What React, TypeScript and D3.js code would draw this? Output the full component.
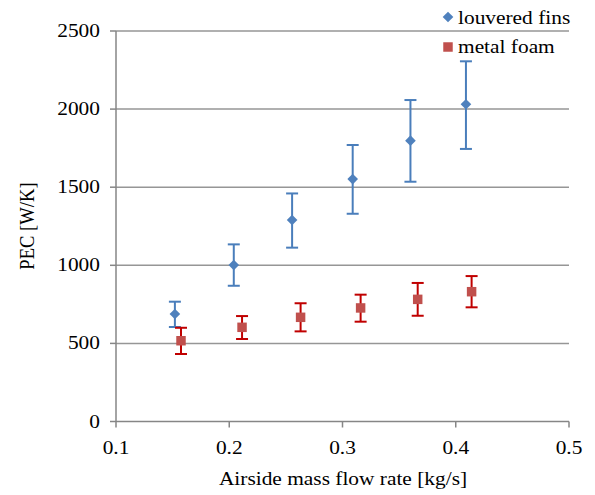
import React from "react";
import * as d3 from "d3";

const louveredX = [0.152, 0.204, 0.2555, 0.309, 0.360, 0.409];
const louveredY = [688, 1002, 1290, 1552, 1798, 2031];
const louveredHi = [767, 1134, 1460, 1770, 2058, 2306];
const louveredLo = [605, 869, 1113, 1330, 1535, 1745];

const foamX = [0.1574, 0.2113, 0.263, 0.316, 0.3664, 0.414];
const foamY = [517, 603, 667, 727, 782, 831];
const foamHi = [600, 675, 757, 812, 887, 931];
const foamLo = [432, 528, 577, 639, 677, 731];

const xTicks = [0.1, 0.2, 0.3, 0.4, 0.5];
const yTicks = [0, 500, 1000, 1500, 2000, 2500];

const W = 595;
const H = 495;
const font = "Liberation Serif, Times New Roman, serif";
const SX = 1.15;
const FS = "18.6px";

function Txt(props: { x: number; y: number; anchor?: string; rotate?: number; children: React.ReactNode }) {
  const { x, y, anchor, rotate, children } = props;
  return (
    <text
      transform={`translate(${x},${y}) scale(${SX},1)${rotate ? ` rotate(${rotate})` : ""}`}
      textAnchor={anchor || "start"}
      style={{ fontFamily: font, fontSize: FS }}
      fill="#000"
    >
      {children}
    </text>
  );
}

export default function App() {
  const x = d3.scaleLinear().domain([0.1, 0.5]).range([116, 569]);
  const y = d3.scaleLinear().domain([0, 2500]).range([421.5, 31]);
  const diamond = d3.symbol().type(d3.symbolDiamond2).size(72)() as string;
  const square = d3.symbol().type(d3.symbolSquare).size(90)() as string;
  const axisColor = "#868686";
  const gridColor = "#969696";
  const blue = "#4F81BD";
  const blueErr = "#4A7EBB";
  const red = "#C0504D";
  const redErr = "#C00000";
  const cap = 6;

  return (
    <svg width={W} height={H} style={{ position: "absolute", left: 0, top: 0, background: "#fff" }}>
      {yTicks.filter((t) => t > 0).map((t) => (
        <line key={"g" + t} x1={x(0.1)} x2={x(0.5)} y1={y(t)} y2={y(t)} stroke={gridColor} strokeWidth={1.5} />
      ))}
      <line x1={x(0.1)} x2={x(0.1)} y1={y(0)} y2={y(2500)} stroke={axisColor} strokeWidth={1.5} />
      <line x1={x(0.1)} x2={x(0.5)} y1={y(0)} y2={y(0)} stroke={axisColor} strokeWidth={1.5} />
      {yTicks.map((t) => (
        <g key={"yt" + t}>
          <line x1={x(0.1) - 6} x2={x(0.1)} y1={y(t)} y2={y(t)} stroke={axisColor} strokeWidth={1.5} />
          <Txt x={100} y={y(t) + 6} anchor="end">{t}</Txt>
        </g>
      ))}
      {xTicks.map((t) => (
        <g key={"xt" + t}>
          <line x1={x(t)} x2={x(t)} y1={y(0)} y2={y(0) + 6} stroke={axisColor} strokeWidth={1.5} />
          <Txt x={x(t)} y={454} anchor="middle">{d3.format(".1f")(t)}</Txt>
        </g>
      ))}
      <Txt x={343} y={485} anchor="middle">Airside mass flow rate [kg/s]</Txt>
      <Txt x={34} y={226} anchor="middle" rotate={-90}>PEC [W/K]</Txt>

      {louveredX.map((v, i) => (
        <g key={"l" + i}>
          <line x1={x(v)} x2={x(v)} y1={y(louveredLo[i])} y2={y(louveredHi[i])} stroke={blueErr} strokeWidth={2} />
          <line x1={x(v) - cap} x2={x(v) + cap} y1={y(louveredLo[i])} y2={y(louveredLo[i])} stroke={blueErr} strokeWidth={2} />
          <line x1={x(v) - cap} x2={x(v) + cap} y1={y(louveredHi[i])} y2={y(louveredHi[i])} stroke={blueErr} strokeWidth={2} />
          <path d={diamond} transform={`translate(${x(v)},${y(louveredY[i])})`} fill={blue} />
        </g>
      ))}
      {foamX.map((v, i) => (
        <g key={"f" + i}>
          <line x1={x(v)} x2={x(v)} y1={y(foamLo[i])} y2={y(foamHi[i])} stroke={redErr} strokeWidth={2} />
          <line x1={x(v) - cap} x2={x(v) + cap} y1={y(foamLo[i])} y2={y(foamLo[i])} stroke={redErr} strokeWidth={2} />
          <line x1={x(v) - cap} x2={x(v) + cap} y1={y(foamHi[i])} y2={y(foamHi[i])} stroke={redErr} strokeWidth={2} />
          <path d={square} transform={`translate(${x(v)},${y(foamY[i])})`} fill={red} />
        </g>
      ))}

      <path d={diamond} transform="translate(448,17)" fill={blue} />
      <Txt x={458} y={24}>louvered fins</Txt>
      <path d={square} transform="translate(448,47)" fill={red} />
      <Txt x={458} y={53}>metal foam</Txt>
    </svg>
  );
}
